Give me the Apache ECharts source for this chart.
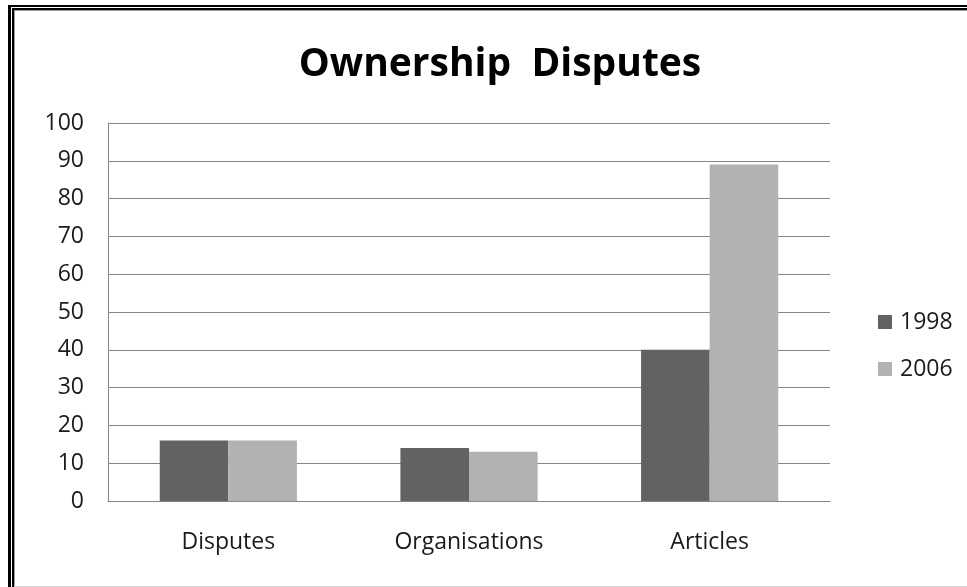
<!DOCTYPE html>
<html>
<head>
<meta charset="utf-8">
<script src="https://cdn.jsdelivr.net/npm/echarts@6/dist/echarts.min.js"></script>
<style>
  html, body { margin: 0; padding: 0; background: #fff; }
  #wrap { position: relative; width: 967px; height: 587px; overflow: hidden; background: #fff; }
  #b1 { position: absolute; left: 8px; top: 5px; width: 2000px; height: 2000px; border-left: 3px solid #000; border-top: 2px solid #000; }
  #b2 { position: absolute; left: 12px; top: 8px; width: 2000px; height: 2000px; border-left: 2px solid #000; border-top: 2px solid #000; }
  #b3 { position: absolute; left: 14px; top: 10px; width: 2000px; height: 2000px; border-left: 1px solid #a0a0a0; border-top: 1px solid #a0a0a0; }
  #b4 { position: absolute; left: 14px; top: 586px; width: 2000px; height: 1px; background: #d4d4d4; }
  #chart { position: absolute; left: 0; top: 0; width: 967px; height: 587px; }
</style>
</head>
<body>
<div id="wrap">
  <div id="b1"></div><div id="b2"></div><div id="b3"></div><div id="b4"></div>
  <div id="chart"></div>
</div>
<script>
const title = 'Ownership  Disputes';
const categories = ['Disputes', 'Organisations', 'Articles'];
const seriesNames = ['1998', '2006'];
const values1998 = [16, 14, 40];
const values2006 = [16, 13, 89];
const yTicks = { min: 0, max: 100, interval: 10 };

const FONT = '"Open Sans", sans-serif';
const chart = echarts.init(document.getElementById('chart'), null, { renderer: 'canvas' });
chart.setOption({
  backgroundColor: 'transparent',
  animation: false,
  title: {
    text: title,
    left: 495, top: 60, textAlign: 'center', textVerticalAlign: 'middle',
    textStyle: { fontFamily: FONT, fontWeight: 'bold', fontSize: 39, color: '#000' }
  },
  legend: {
    orient: 'vertical',
    left: 873, top: 305,
    itemWidth: 14, itemHeight: 14, itemGap: 23,
    icon: 'rect',
    data: seriesNames,
    textStyle: { fontFamily: FONT, fontSize: 23, color: '#1a1a1a', lineHeight: 24, padding: [0, 0, 0, 3] }
  },
  grid: { left: 108, right: 137, top: 123, bottom: 86, containLabel: false },
  xAxis: {
    type: 'category',
    data: categories,
    axisLine: { show: true, lineStyle: { color: '#868686', width: 1 } },
    axisTick: { show: false },
    axisLabel: { fontFamily: FONT, fontSize: 23, color: '#1a1a1a', margin: 30 },
    splitLine: { show: false }
  },
  yAxis: {
    type: 'value',
    min: yTicks.min, max: yTicks.max, interval: yTicks.interval,
    axisLine: { show: true, lineStyle: { color: '#868686', width: 1 } },
    axisTick: { show: false },
    axisLabel: { fontFamily: FONT, fontSize: 23, color: '#1a1a1a', margin: 24 },
    splitLine: { show: true, lineStyle: { color: '#868686', width: 1 } }
  },
  series: [
    { name: seriesNames[0], type: 'bar', data: values1998, barGap: '0%', barCategoryGap: '43%',
      itemStyle: { color: '#626262' } },
    { name: seriesNames[1], type: 'bar', data: values2006, barGap: '0%', barCategoryGap: '43%',
      itemStyle: { color: '#b2b2b2' } }
  ]
});
</script>
</body>
</html>
